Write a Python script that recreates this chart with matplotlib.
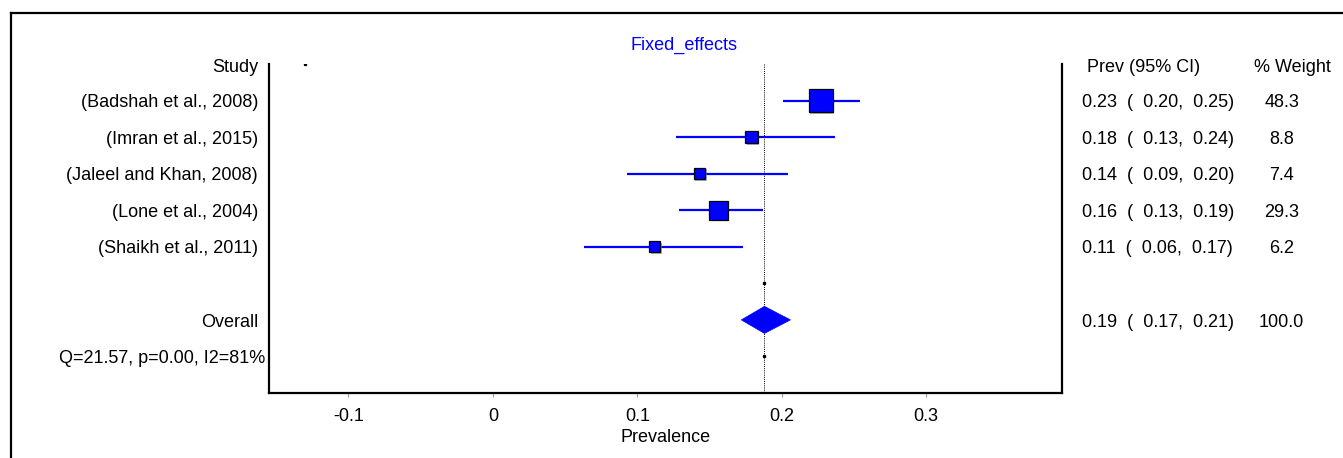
import numpy as np
import matplotlib
matplotlib.use("Agg")
import matplotlib.pyplot as plt
from matplotlib.lines import Line2D
from matplotlib.patches import Polygon
from matplotlib.transforms import blended_transform_factory
import matplotlib.patheffects as pe

# Datos del forest plot
studies = ["(Badshah et al., 2008)", "(Imran et al., 2015)", "(Jaleel and Khan, 2008)",
           "(Lone et al., 2004)", "(Shaikh et al., 2011)"]
prev = [0.227, 0.179, 0.143, 0.156, 0.112]
ci_low = [0.201, 0.127, 0.093, 0.129, 0.063]
ci_high = [0.254, 0.237, 0.204, 0.187, 0.173]
weight = [48.3, 8.8, 7.4, 29.3, 6.2]
pooled = 0.188
pooled_low = 0.172
pooled_high = 0.206
pooled_weight = 100.0
het_text = "Q=21.57, p=0.00, I2=81%"
xticks = [-0.1, 0, 0.1, 0.2, 0.3]
xtick_labels = ["-0.1", "0", "0.1", "0.2", "0.3"]

plt.rcParams['font.family'] = ['Liberation Sans', 'DejaVu Sans']
FS = 13
BLUE = '#0000ff'
DY = 0.06  # pequeño desplazamiento del texto hacia abajo

W, H = 1343, 458
fig = plt.figure(figsize=(W / 100, H / 100), dpi=100)
ax = fig.add_axes([269 / W, 1 - 393 / H, (1062 - 269) / W, (393 - 64) / H])

# lineas de los intervalos y cuadrados
for i in range(len(studies)):
    y = i + 1
    ax.plot([ci_low[i], ci_high[i]], [y, y], color=BLUE, lw=1.6, solid_capstyle='butt', zorder=2)
    size_px = 3.9 + 2.85 * np.sqrt(weight[i])
    ax.plot(prev[i], y, marker='s', ms=size_px * 0.72, mfc=BLUE, mec='black', mew=0.9,
            zorder=3, path_effects=[pe.SimplePatchShadow(offset=(1, -1), shadow_rgbFace='gray', alpha=0.6),
                                    pe.Normal()])

# rombo del efecto combinado
yo = 7
h = 0.37
diamond = Polygon([(pooled_low, yo), (pooled, yo - h), (pooled_high, yo), (pooled, yo + h)],
                  closed=True, facecolor=BLUE, edgecolor=BLUE, lw=0.5, zorder=3)
ax.add_patch(diamond)

# linea punteada vertical
ax.plot([pooled, pooled], [0, 9], color='black', lw=0.7, ls=(0, (1, 1.2)), zorder=1)
ax.plot([-0.13, pooled, pooled], [0, 6, 8], ls='none', marker='s', ms=1.4, color='black', zorder=4)

ax.set_xlim(-0.155, 0.394)
ax.set_ylim(9, 0)
ax.spines['top'].set_visible(False)
for s in ['left', 'bottom', 'right']:
    ax.spines[s].set_linewidth(1.6)
ax.set_yticks([])
ax.set_xticks(xticks)
ax.set_xticklabels(xtick_labels, fontsize=FS)
ax.tick_params(axis='x', direction='out', length=3, width=0.8, color='#999999', pad=7.5)
ax.set_xlabel("Prevalence", fontsize=FS, labelpad=3)

# columnas de texto
tr = blended_transform_factory(ax.transAxes, ax.transData)
ax.text(-0.014, 0.1, "Study", ha='right', va='center', fontsize=FS, transform=tr)
for i, name in enumerate(studies):
    ax.text(-0.014, i + 1 + DY, name, ha='right', va='center', fontsize=FS, transform=tr)
ax.text(-0.014, 7 + DY, "Overall", ha='right', va='center', fontsize=FS, transform=tr)
ax.text(-0.005, 8 + DY, het_text, ha='right', va='center', fontsize=FS, transform=tr)

ax.text(1.032, 0.1, "Prev (95% CI)", ha='left', va='center', fontsize=FS, transform=tr)
ax.text(1.242, 0.1, "% Weight", ha='left', va='center', fontsize=FS, transform=tr)
for i in range(len(studies)):
    ax.text(1.025, i + 1 + DY, "%.2f  (  %.2f,  %.2f)" % (prev[i], ci_low[i], ci_high[i]),
            ha='left', va='center', fontsize=FS, transform=tr)
    ax.text(1.277, i + 1 + DY, "%.1f" % weight[i], ha='center', va='center', fontsize=FS, transform=tr)
ax.text(1.025, 7 + DY, "%.2f  (  %.2f,  %.2f)" % (pooled, pooled_low, pooled_high),
        ha='left', va='center', fontsize=FS, transform=tr)
ax.text(1.277, 7 + DY, "%.1f" % pooled_weight, ha='center', va='center', fontsize=FS, transform=tr)

fig.text(684 / W, 1 - 45 / H, "Fixed_effects", color=BLUE, ha='center', va='center', fontsize=FS)

# marco de la figura (solo se ve arriba y a la izquierda)
fig.add_artist(Line2D([11 / W, 11 / W], [0, 1 - 13 / H], color='black', lw=1.6))
fig.add_artist(Line2D([11 / W, 1], [1 - 13 / H, 1 - 13 / H], color='black', lw=1.6))

fig.savefig("out.png", dpi=100)
